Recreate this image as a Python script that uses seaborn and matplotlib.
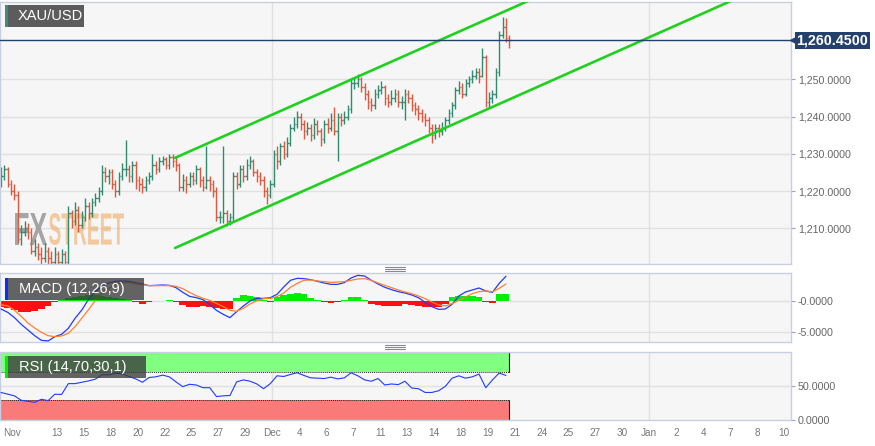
import numpy as np
import pandas as pd
import matplotlib
matplotlib.use("Agg")
import matplotlib.pyplot as plt
import matplotlib.transforms as mtransforms
from matplotlib.patches import Rectangle, PathPatch
from matplotlib.lines import Line2D
from matplotlib.textpath import TextPath
from matplotlib.font_manager import FontProperties
import seaborn as sns

# ---- price bars (4h OHLC, opens follow the previous close) ----
first_open = 1222
closes = [1224, 1226, 1222, 1220, 1219, 1207, 1209, 1210, 1209, 1204,
          1205, 1203, 1202, 1204, 1202, 1201, 1203, 1201, 1203, 1201,
          1214, 1212, 1215, 1211, 1213, 1216, 1214, 1217, 1218, 1220,
          1225, 1224, 1225, 1222, 1220, 1224, 1226, 1226, 1224, 1227,
          1223, 1222, 1221, 1223, 1224, 1227, 1226, 1228, 1228.5, 1227,
          1229, 1228, 1227, 1221, 1223, 1222, 1224, 1223, 1226, 1223,
          1221, 1223, 1222, 1220, 1213, 1213, 1214, 1212, 1213, 1224,
          1222, 1226, 1224, 1227, 1228, 1225, 1224, 1223, 1220, 1219,
          1222, 1230, 1228, 1232, 1230, 1233, 1237, 1238, 1240, 1238,
          1236, 1237, 1235, 1238, 1236, 1234, 1238, 1237, 1239, 1236,
          1240, 1239, 1240, 1242, 1249, 1249, 1250, 1248, 1246, 1244,
          1243, 1246, 1247, 1248, 1245, 1244, 1245, 1246, 1244, 1244,
          1246, 1245, 1243, 1242, 1241, 1240, 1239, 1237, 1235, 1237,
          1236, 1237, 1239, 1241, 1243, 1247, 1248, 1246, 1249, 1250,
          1251, 1252, 1251, 1256, 1244, 1245, 1246, 1252, 1262, 1264,
          1261, 1260.45]
highs = [1226.5, 1227, 1226.5, 1223, 1222, 1220, 1211, 1212, 1211.5, 1210,
         1207, 1206, 1205, 1206, 1205, 1204, 1205, 1204, 1204.5, 1204,
         1216, 1215, 1217, 1216, 1214.5, 1218, 1217, 1218, 1219.5, 1221,
         1227, 1226.5, 1226, 1226, 1223, 1225, 1227.5, 1233.7, 1227, 1228,
         1228, 1224, 1223.5, 1224, 1225, 1230, 1228, 1229, 1229.5, 1229,
         1230, 1230, 1229.5, 1227.5, 1224.5, 1224, 1225, 1225, 1227, 1226.5,
         1224, 1232, 1224, 1223, 1221, 1214.5, 1232, 1215, 1214, 1225,
         1225, 1227, 1227, 1228.5, 1229.5, 1228.5, 1226, 1225, 1224, 1221,
         1223, 1231, 1232, 1233, 1233.5, 1234.5, 1238, 1240, 1241.5, 1241,
         1239, 1238.5, 1238, 1239.5, 1239, 1237, 1239, 1239.5, 1241, 1242.5,
         1241, 1241, 1241.5, 1243, 1250, 1250.5, 1251.5, 1250.5, 1249, 1247,
         1245, 1247.5, 1248.5, 1249.5, 1248.5, 1246, 1247, 1247.5, 1247, 1245.5,
         1247.5, 1247, 1246, 1244, 1243, 1242, 1241, 1240, 1238, 1238,
         1238, 1238.5, 1240, 1242, 1244, 1248, 1249.5, 1249, 1250, 1251,
         1252.5, 1253, 1253, 1258.5, 1256.5, 1246.5, 1247, 1253, 1263, 1266.8,
         1266.5, 1262]
lows = [1221, 1223, 1221, 1219, 1217.5, 1206, 1205.5, 1208, 1207, 1203,
        1202.5, 1201.5, 1200.5, 1201, 1200.5, 1200, 1200, 1199.5, 1200, 1199.5,
        1200.5, 1210, 1211, 1209, 1210, 1212, 1212.5, 1213, 1216, 1217,
        1219, 1222.5, 1222, 1220.5, 1218.5, 1219, 1223, 1224, 1222.5, 1222.5,
        1220.5, 1220, 1219.5, 1220, 1222, 1223, 1224.5, 1225, 1227, 1226,
        1226, 1226.5, 1225.5, 1220, 1220, 1219.5, 1221, 1221.5, 1222, 1221,
        1220, 1220.5, 1220, 1218.5, 1212, 1211.5, 1211.5, 1210.5, 1211, 1212,
        1220.5, 1221, 1222.5, 1223, 1226, 1224, 1222.5, 1221.5, 1218.5, 1216.5,
        1218, 1221, 1226, 1227, 1228.5, 1229, 1232, 1236, 1237, 1236.5,
        1234, 1235, 1233.5, 1234, 1235, 1232, 1233, 1235.5, 1236, 1235,
        1228, 1237.5, 1238, 1239, 1241, 1247.5, 1248, 1246.5, 1244.5, 1242,
        1241.5, 1242, 1245, 1246, 1243, 1242.5, 1243, 1244, 1242.5, 1242,
        1239, 1243.5, 1241.5, 1240.5, 1239, 1238.5, 1237.5, 1235.5, 1233, 1234,
        1234.5, 1235, 1236, 1238, 1240, 1242, 1246, 1245, 1245.5, 1248,
        1249, 1250, 1249, 1250.5, 1242.5, 1242.5, 1243.5, 1245, 1251, 1261,
        1260, 1258.5]
last_price = 1260.45

# trend channel: bar position and price at both ends
channel_x = [51.7, 220]
channel_upper = [1228.9, 1296.5]
channel_lower = [1204.7, 1272.3]

# x axis labels (one every 8 bars)
tick_labels = ["Nov", "", "13", "15", "18", "20", "22", "25", "27", "29",
               "Dec", "4", "6", "7", "11", "13", "14", "18", "19", "21",
               "24", "25", "27", "30", "Jan", "2", "4", "7", "8", "10"]
price_ticks = [1210, 1220, 1230, 1240, 1250]

# ---- indicators, read every second bar ----
macd_line = [-1.30, -1.85, -2.71, -3.80, -4.72, -5.65, -6.41, -6.51, -5.81, -5.43,
             -4.45, -2.82, -1.47, 0.27, 1.52, 2.39, 2.93, 3.20, 3.26, 3.20,
             2.99, 2.77, 2.50, 2.55, 2.61, 2.55, 2.17, 1.41, 0.76, 0.54,
             0.22, -0.60, -1.52, -2.17, -2.71, -1.74, -0.81, 0.0, 0.43, 0.43,
             0.54, 1.09, 2.28, 3.37, 3.69, 3.64, 3.47, 3.20, 2.93, 2.71,
             2.71, 2.99, 3.75, 4.18, 4.07, 3.37, 2.77, 2.23, 1.85, 1.52,
             1.30, 0.98, 0.54, -0.22, -0.92, -1.36, -1.30, -0.54, 0.81, 1.47,
             1.79, 2.12, 1.63, 1.41, 2.88, 4.02]
signal_line = [-0.60, -0.81, -1.52, -2.50, -3.58, -4.40, -5.10, -5.65, -5.81, -5.70,
               -5.27, -4.18, -2.82, -1.41, 0.05, 1.25, 2.06, 2.71, 2.99, 2.99,
               2.77, 2.66, 2.50, 2.50, 2.50, 2.50, 2.39, 2.01, 1.41, 0.87,
               0.43, 0.11, -0.38, -0.92, -1.52, -1.68, -1.19, -0.49, 0.05, 0.38,
               0.43, 0.71, 1.30, 2.23, 2.88, 3.37, 3.42, 3.26, 3.15, 3.04,
               3.09, 3.15, 3.37, 3.58, 3.64, 3.37, 2.93, 2.55, 2.17, 1.79,
               1.47, 1.19, 0.81, 0.38, -0.16, -0.65, -0.81, -0.43, 0.11, 0.65,
               1.19, 1.52, 1.63, 1.52, 2.06, 2.77]
macd_hist = [-0.92, -1.09, -1.47, -1.74, -1.74, -1.63, -1.30, -0.76, -0.22, 0.22,
             0.43, 0.65, 0.87, 0.98, 0.98, 0.81, 0.65, 0.43, 0.27, 0.11,
             -0.11, -0.43, -0.22, 0.0, 0.05, 0.10, -0.10, -0.65, -0.92, -0.98,
             -0.87, -0.98, -1.09, -1.36, -1.36, 0.54, 0.98, 0.87, 0.60, 0.16,
             -0.10, 0.65, 0.98, 1.09, 1.25, 1.09, 0.43, 0.11, -0.22, -0.33,
             -0.22, 0.11, 0.60, 0.60, 0.16, -0.43, -0.65, -0.76, -0.87, -0.76,
             -0.54, -0.65, -0.76, -0.92, -0.98, -0.92, -0.54, 0.65, 0.87, 0.81,
             0.76, 0.65, -0.11, -0.38, 1.09, 1.19]
rsi_values = [40.5, 38, 35.5, 29, 27.5, 26, 30.5, 28.5, 38, 37.5,
              53.5, 53.5, 55.5, 57.5, 60, 66.5, 66.5, 68.5, 68, 64,
              60.5, 55.5, 62.5, 63.5, 66, 63.5, 56, 49, 52.5, 51.5,
              47.5, 47.5, 34.5, 35.5, 36, 56, 59, 57, 53, 46,
              53.5, 65, 64, 67, 69.5, 65.5, 62, 61.5, 61, 63,
              60.5, 62, 69.5, 65, 59, 57, 61, 51.5, 53, 52,
              57, 47, 46, 40.5, 40.5, 43, 49.5, 61.5, 65, 61.5,
              63.5, 67.5, 47.5, 59, 69, 65.5]

# ---- style ----
sns.set_theme(style="white")
plt.rcParams["font.family"] = ["Liberation Sans", "DejaVu Sans"]

GREEN_BAR = "#2e8b70"
RED_BAR = "#e0573d"
PANEL_BG = "#f6f6f6"
GRID = "#e1e1e1"
SPINE = "#c9cfe2"
W, H = 875, 446

fig = plt.figure(figsize=(8.75, 4.46), dpi=100)
fig.patch.set_facecolor("white")


def box(x0, y0, x1, y1):
    return [x0 / W, 1 - y1 / H, (x1 - x0) / W, (y1 - y0) / H]


ax1 = fig.add_axes(box(0, 2, 791, 264))
ax2 = fig.add_axes(box(0, 273, 791, 342))
ax3 = fig.add_axes(box(0, 352, 791, 420))

step = 26.93 / 8  # pixels per bar
xlim = (-1 / step, 790 / step)
tick_pos = [0.594 + 8 * k for k in range(len(tick_labels))]
month_pos = [tick_pos[10], tick_pos[24]]

for ax in (ax1, ax2, ax3):
    ax.set_facecolor(PANEL_BG)
    ax.set_xlim(*xlim)
    for sp in ax.spines.values():
        sp.set_color(SPINE)
        sp.set_linewidth(1)
    ax.yaxis.tick_right()
    ax.tick_params(axis="y", length=3, width=0.8, color="#9aa3b8", pad=2,
                   labelsize=7.7, labelcolor="#666666")
    ax.set_xticks([])
    for m in month_pos:
        ax.axvline(m, color=GRID, lw=1, zorder=0.6)

# ---- price panel ----
x = np.arange(len(closes))
opens = [first_open] + closes[:-1]
up = np.array(closes) >= np.array(opens)
colors = np.where(up, GREEN_BAR, RED_BAR)
ax1.set_ylim(1200.4, 1270.75)
for v in price_ticks:
    ax1.axhline(v, color=GRID, lw=1, zorder=0.6)
ax1.set_yticks(price_ticks)
ax1.set_yticklabels(["{:,.4f}".format(v) for v in price_ticks])


# watermark, squeezed into a condensed shape (pixel box)
def watermark(text, x0, x1, y_top, y_bot, color, alpha):
    tp = TextPath((0, 0), text, size=10,
                  prop=FontProperties(family="Liberation Sans", weight="bold"))
    ext = tp.get_extents()
    sx = (x1 - x0) / ext.width
    sy = (y_bot - y_top) / ext.height
    tr = (mtransforms.Affine2D().translate(-ext.x0, -ext.y0).scale(sx, sy)
          .translate(x0, H - y_bot))
    ax1.add_patch(PathPatch(tp, transform=tr, fc=color, ec="none",
                            alpha=alpha, zorder=0.7))


watermark("FX", 15, 47, 213, 245, "#8a8a8a", 0.75)
watermark("STREET", 49, 124, 213, 245, "#f0aa60", 0.6)

ax1.vlines(x, lows, highs, colors=colors, lw=1.0, zorder=2)
ax1.hlines(opens, x - 0.45, x, colors=colors, lw=1.0, zorder=2)
ax1.hlines(closes, x, x + 0.45, colors=colors, lw=1.0, zorder=2)

ax1.plot(channel_x, channel_upper, color="#1fd01f", lw=1.9, zorder=3)
ax1.plot(channel_x, channel_lower, color="#1fd01f", lw=1.9, zorder=3)

ax1.axhline(last_price, color="#24406c", lw=1, zorder=3)
trans = mtransforms.blended_transform_factory(ax1.transAxes, ax1.transData)
ax1.text(1.007, last_price, "{:,.4f}".format(last_price), transform=trans,
         ha="left", va="center", color="white", fontweight="bold", fontsize=10.3,
         bbox=dict(boxstyle="square,pad=0.12", fc="#24406c", ec="none"),
         clip_on=False, zorder=5)
ax1.plot([1.003], [last_price], marker="<", ms=5, color="#24406c",
         transform=trans, clip_on=False, zorder=5)

# ---- MACD panel ----
ind_x = np.arange(0, len(closes), 2)
ax2.set_ylim(-6.68, 4.56)
for v in (0, -5):
    ax2.axhline(v, color=GRID, lw=1, zorder=0.6)
ax2.set_yticks([0, -5])
ax2.set_yticklabels(["-0.0000", "-5.0000"])
hist = np.array(macd_hist)
ax2.bar(ind_x, hist, width=2.0, color=np.where(hist >= 0, "#00ee00", "#ff1010"),
        linewidth=0, zorder=2)
macd_df = pd.DataFrame({"bar": ind_x, "macd": macd_line, "signal": signal_line})
sns.lineplot(data=macd_df, x="bar", y="macd", ax=ax2, color="#1f3cff", lw=0.9, zorder=3)
sns.lineplot(data=macd_df, x="bar", y="signal", ax=ax2, color="#ff8030", lw=0.9, zorder=3)
ax2.set_xlabel("")
ax2.set_ylabel("")
ax2.set_xlim(*xlim)

# ---- RSI panel ----
ax3.set_ylim(0, 100)
ax3.axhline(50, color=GRID, lw=1, zorder=0.6)
ax3.set_yticks([50, 0])
ax3.set_yticklabels(["50.0000", "0.0000"])
last_x = x[-1]
ax3.add_patch(Rectangle((xlim[0], 70), last_x - xlim[0], 30, fc="#80ff80", ec="none", zorder=1))
ax3.add_patch(Rectangle((xlim[0], 0), last_x - xlim[0], 30, fc="#fa7a7a", ec="none", zorder=1))
for lvl in (70, 30):
    ax3.plot([xlim[0], last_x], [lvl, lvl], color="#222222", lw=0.7, ls=(0, (1, 1)), zorder=2)
ax3.plot([last_x, last_x], [70, 100], color="#222222", lw=0.8, zorder=2)
ax3.plot([last_x, last_x], [0, 30], color="#222222", lw=0.8, zorder=2)
rsi_df = pd.DataFrame({"bar": ind_x, "rsi": rsi_values})
sns.lineplot(data=rsi_df, x="bar", y="rsi", ax=ax3, color="#1f3cff", lw=0.8, zorder=3)
ax3.set_xlabel("")
ax3.set_ylabel("")
ax3.set_xlim(*xlim)
ax3.set_xticks(tick_pos)
ax3.set_xticklabels(tick_labels)
ax3.tick_params(axis="x", length=3, width=0.8, color="#9aa3b8", pad=3,
                labelsize=7.2, labelcolor="#777777")
ax3.get_xticklabels()[0].set_horizontalalignment("left")


# ---- labels drawn over the panels ----
def fig_rect(x0, y0, x1, y1, **kw):
    fig.add_artist(Rectangle((x0 / W, 1 - y1 / H), (x1 - x0) / W, (y1 - y0) / H,
                             transform=fig.transFigure, **kw))


fig_rect(5, 5, 84, 27, fc="#5c5c5c", ec="none", zorder=5)
fig_rect(5, 5, 7.5, 27, fc="#3a8f76", ec="none", zorder=6)
fig.text(18 / W, 1 - 16.5 / H, "XAU/USD", color="white", fontsize=10.5,
         va="center", ha="left", zorder=7)

fig_rect(5, 278, 144, 300, fc="#3a3a3a", ec="none", alpha=0.78, zorder=5)
fig_rect(5, 278, 8, 300, fc="#0a2cff", ec="none", zorder=6)
fig.text(19 / W, 1 - 289.5 / H, "MACD (12,26,9)", color="white", fontsize=10.5,
         va="center", ha="left", zorder=7)

fig_rect(5, 356, 146, 378, fc="#3a3a3a", ec="none", alpha=0.78, zorder=5)
fig_rect(5, 356, 8, 378, fc="#00ee00", ec="none", zorder=6)
fig.text(19 / W, 1 - 367.5 / H, "RSI (14,70,30,1)", color="white", fontsize=10.5,
         va="center", ha="left", zorder=7)

# panel resize grips
for gy in (267, 269, 271, 345, 347, 349):
    fig.add_artist(Line2D([385 / W, 405 / W], [1 - gy / H, 1 - gy / H],
                          transform=fig.transFigure, color="#8a8a8a", lw=0.8))

fig.savefig("out.png", dpi=100, facecolor="white")
